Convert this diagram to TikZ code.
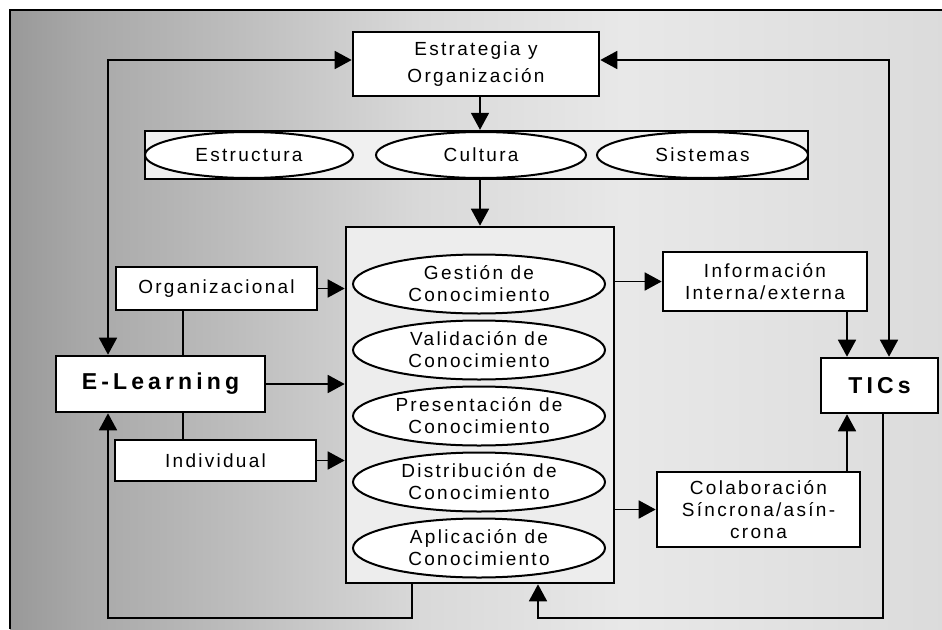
\documentclass[tikz,border=0pt]{standalone}
\usepackage{fontspec}
\setmainfont{Liberation Sans}
\newfontfamily\labelfont[LetterSpace=12]{Liberation Sans}
\newfontfamily\headfont[LetterSpace=18]{Liberation Sans}
\usetikzlibrary{arrows.meta,shapes.geometric}

% grainy grey backdrop: darker on the left, lighter towards the right
\pgfdeclarehorizontalshading{backdrop}{100bp}{%
  color(0bp)=(black!40); color(25bp)=(black!40); color(29bp)=(black!34);
  color(37bp)=(black!26); color(47bp)=(black!15); color(58bp)=(black!9);
  color(75bp)=(black!14); color(100bp)=(black!14)}

\newcommand\lbl{\labelfont\fontsize{19}{22}\selectfont}
\newcommand\lblwide{\labelfont\fontsize{19}{27}\selectfont}
\newcommand\lblbig{\headfont\bfseries\fontsize{23}{27}\selectfont}

\tikzset{
  box/.style={draw, fill=white, line width=2.6pt, inner sep=0pt, align=center, font=\lbl},
  ell/.style={ellipse, draw, fill=white, line width=2pt, inner sep=0pt, align=center, font=\lbl},
  conn/.style={line width=1.7pt, -{Triangle[length=17pt,width=18pt]}},
  dbl/.style={line width=1.7pt, {Triangle[length=17pt,width=18pt]}-{Triangle[length=17pt,width=18pt]}},
  plain/.style={line width=1.7pt},
}

\begin{document}
\begin{tikzpicture}[x=1pt,y=-1pt]
\useasboundingbox (0,0) rectangle (942,629);

% backdrop and frame
\fill[shading=backdrop] (10,10) rectangle (942,629);
\draw[line width=1.5pt] (942,10) -- (10,10) -- (10,629);

% top: strategy box and the strip of three ellipses
\node[box, font=\lblwide, minimum width=246, minimum height=64] (strat) at (476,64) {Estrategia y\\Organización};
\node[draw, fill=black!6, line width=2.4pt, minimum width=663, minimum height=48, inner sep=0pt] (strip) at (476.5,155) {};
\node[ell, minimum width=208, minimum height=46] (estr) at (249,155) {Estructura};
\node[ell, minimum width=210, minimum height=46] (cult) at (481,155) {Cultura};
\node[ell, minimum width=211, minimum height=46] (sist) at (702.5,155) {Sistemas};

% central knowledge box
\node[draw, fill=black!7, line width=2.6pt, minimum width=268, minimum height=356, inner sep=0pt] (kbox) at (480,405) {};
\node[ell, minimum width=252, minimum height=59] (gest) at (479,284) {Gestión de\\Conocimiento};
\node[ell, minimum width=252, minimum height=59] (vali) at (479,350) {Validación de\\Conocimiento};
\node[ell, minimum width=252, minimum height=59] (pres) at (479,416) {Presentación de\\Conocimiento};
\node[ell, minimum width=252, minimum height=59] (dist) at (479,482) {Distribución de\\Conocimiento};
\node[ell, minimum width=252, minimum height=59] (apli) at (479,548) {Aplicación de\\Conocimiento};

% left side
\node[box, minimum width=201, minimum height=43] (org) at (216.5,288.5) {Organizacional};
\node[box, font=\lblbig, minimum width=209, minimum height=56] (elearn) at (160.5,384) {E-Learning};
\node[box, minimum width=201, minimum height=41] (indiv) at (215.5,460.5) {Individual};

% right side
\node[box, minimum width=204, minimum height=59] (info) at (765,281.5) {Información\\Interna/externa};
\node[box, font=\lblbig, minimum width=117, minimum height=55] (tics) at (879.5,385.5) {TICs};
\node[box, minimum width=203, minimum height=75] (colab) at (758.5,509.5) {Colaboración\\Síncrona/asín-\\crona};

% routing points of the outer loops
\coordinate (lt) at (108,60);
\coordinate (lb) at (108,618);
\coordinate (mb) at (412,618);
\coordinate (rt) at (889,60);
\coordinate (rb) at (883,618);
\coordinate (cb) at (538,618);
\coordinate (ov) at (183,0);
\coordinate (tv) at (847,0);

% top-down flow
\draw[conn] (strat.south -| kbox.north) -- (strip.north -| kbox.north);
\draw[conn] (strip.south -| kbox.north) -- (kbox.north);

% outer loops
\draw[dbl] (elearn.north -| lt) -- (lt) -- (strat.west |- lt);
\draw[dbl] (tics.north -| rt) -- (rt) -- (strat.east |- rt);
\draw[conn] (kbox.south -| mb) -- (mb) -- (lb) -- (elearn.south -| lb);
\draw[conn] (tics.south -| rb) -- (rb) -- (cb) -- (kbox.south -| cb);

% left inputs
\draw[plain] (org.south -| ov) -- (elearn.north -| ov);
\draw[plain] (elearn.south -| ov) -- (indiv.north -| ov);
\draw[conn] (org.east) -- (org.east -| kbox.west);
\draw[conn] (elearn.east) -- (elearn.east -| kbox.west);
\draw[conn] (indiv.east) -- (indiv.east -| kbox.west);

% right outputs
\draw[conn] (kbox.east |- info.west) -- (info.west);
\draw[conn] (kbox.east |- colab.west) -- (colab.west);
\draw[conn] (info.south -| tv) -- (tics.north -| tv);
\draw[conn] (colab.north -| tv) -- (tics.south -| tv);
\end{tikzpicture}
\end{document}
